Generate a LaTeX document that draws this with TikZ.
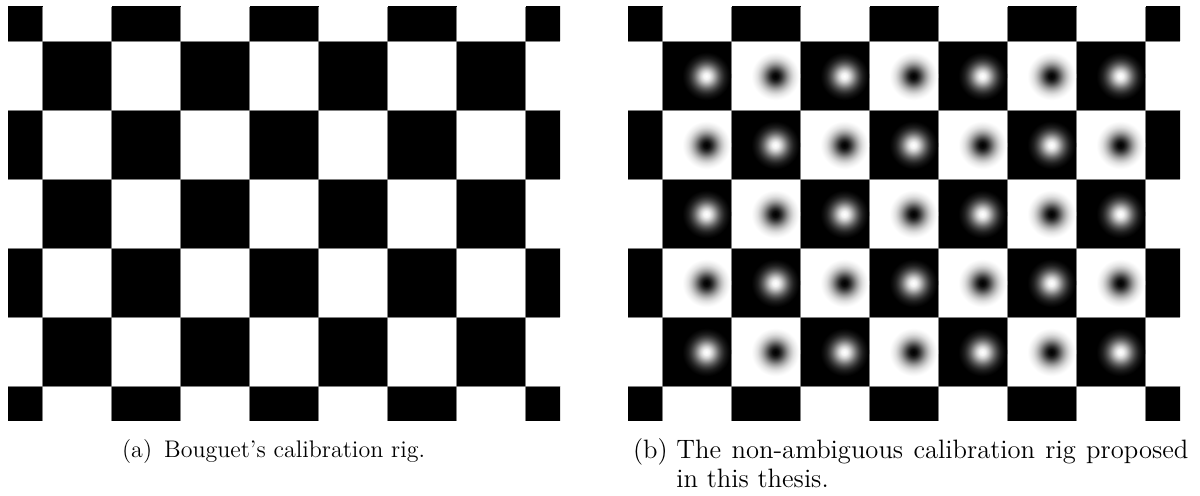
\documentclass[tikz,border=0pt]{standalone}
\usepackage{tikz}
\usetikzlibrary{calc}

% soft spots for the second rig
\pgfdeclareradialshading{lightspot}{\pgfpoint{0bp}{0bp}}{color(0bp)=(white); color(3bp)=(white!95!black); color(6bp)=(white!80!black); color(9bp)=(white!60!black); color(12bp)=(white!40!black); color(15bp)=(white!24!black); color(18bp)=(white!12!black); color(21bp)=(white!5!black); color(24bp)=(black); color(50bp)=(black)}
\pgfdeclareradialshading{darkspot}{\pgfpoint{0bp}{0bp}}{color(0bp)=(black); color(3bp)=(black!95!white); color(6bp)=(black!80!white); color(9bp)=(black!60!white); color(12bp)=(black!40!white); color(15bp)=(black!24!white); color(18bp)=(black!12!white); color(21bp)=(black!5!white); color(24bp)=(white); color(50bp)=(white)}

\begin{document}
\begin{tikzpicture}[x=0.5pt, y=-0.5pt,
  sqfill/.style={fill=black},
  gridline/.style={gray, line width=0.5pt},
  captext/.style={font=\fontsize{12}{14.5}\selectfont, inner sep=0pt, anchor=base west},
  capwide/.style={captext, font=\fontsize{13.3}{16}\selectfont}]

\def\sq{69}
\def\hs{34.5}
\def\ytop{7}
\def\dshift{9}

\useasboundingbox (0,0) rectangle (1200,496);

% both rigs: left edge of each board
\foreach \xleft/\spots in {8.2/0, 628.2/1} {
  \begin{scope}
    \clip (\xleft,\ytop) rectangle ++(552,414);
    \foreach \i in {0,...,8} {
      \foreach \j in {0,...,6} {
        \pgfmathtruncatemacro{\parity}{mod(\i+\j,2)}
        \ifnum\parity=0
          \fill[sqfill] (\xleft-\hs+\i*\sq,\ytop-\hs+\j*\sq) rectangle ++(\sq,\sq);
        \fi
      }
    }
  \end{scope}
  \foreach \k in {0,...,7}
    \draw[gridline] (\xleft+\hs+\k*\sq,\ytop) -- ++(0,414);
  \foreach \k in {0,...,5}
    \draw[gridline] (\xleft,\ytop+\hs+\k*\sq) -- ++(552,0);
  \ifnum\spots=1
    \foreach \i in {1,...,7} {
      \foreach \j in {1,...,5} {
        \pgfmathtruncatemacro{\parity}{mod(\i+\j,2)}
        \ifnum\parity=0
          \shade[shading=lightspot] (\xleft+\i*\sq+\dshift,\ytop+\j*\sq) circle [radius=25];
        \else
          \shade[shading=darkspot] (\xleft+\i*\sq+\dshift,\ytop+\j*\sq) circle [radius=25];
        \fi
      }
    }
  \fi
}

% captions
\node[captext] (capa) at (121.7,457.5) {(a)\enspace Bouguet's calibration rig.};
\node[capwide] (capb) at (632.7,459) {(b)};
\node[capwide] (capbtext) at (676,459) {\makebox[256pt][s]{The non-ambiguous calibration rig proposed}};
\node[capwide] (capbtail) at (676,488) {in this thesis.};

\end{tikzpicture}
\end{document}
